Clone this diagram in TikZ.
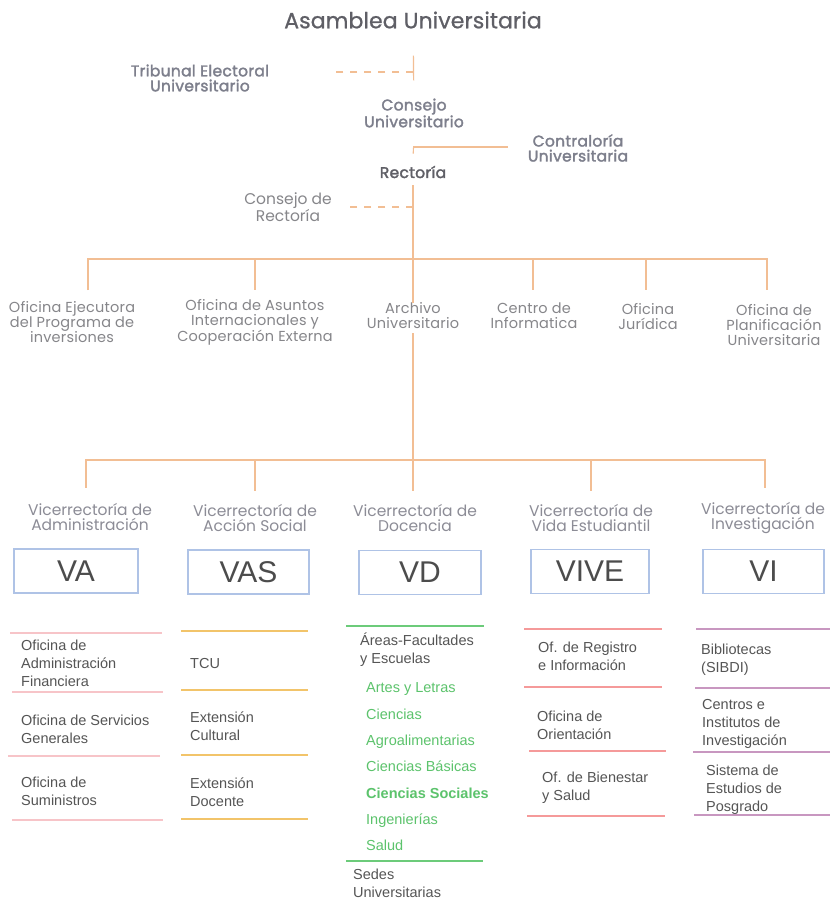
\documentclass[tikz,border=0pt]{standalone}
\usepackage{fontspec}
\setmainfont{Liberation Sans}
\newfontfamily\hfont{Poppins}[LetterSpace=2, FakeBold=2]
\newfontfamily\ofont{Poppins}[LetterSpace=1.5]
\newfontfamily\vfont{Poppins}
\newfontfamily\tfont{Poppins}[LetterSpace=0.5, FakeBold=0.8]
\definecolor{lnc}{HTML}{F2BE94}
\definecolor{hdc}{HTML}{7D7F8C}
\definecolor{ofc}{HTML}{86868A}
\definecolor{vic}{HTML}{8C8C96}
\definecolor{rec}{HTML}{5F5F66}
\definecolor{boxc}{HTML}{AFC3E6}
\definecolor{txc}{HTML}{555555}
\definecolor{pinkc}{HTML}{F7C4C8}
\definecolor{yelc}{HTML}{F2C46A}
\definecolor{grnc}{HTML}{6CCB7A}
\definecolor{redc}{HTML}{F59A9A}
\definecolor{purc}{HTML}{C897C0}
\definecolor{gtx}{HTML}{5CC36C}
\tikzset{
  conn/.style={draw=lnc, line width=1.2pt},
  dconn/.style={draw=lnc, line width=1.2pt, dash pattern=on 7pt off 7pt},
  toplbl/.style={font=\hfont\fontsize{15.5}{15}\selectfont, text=hdc, align=center, inner sep=0pt},
  offlbl/.style={font=\ofont\fontsize{14.5}{15}\selectfont, text=ofc, align=center, inner sep=0pt},
  vilbl/.style={font=\vfont\fontsize{15.5}{15}\selectfont, text=vic, align=center, inner sep=0pt},
  vbox/.style={draw=boxc, line width=1.2pt, fill=white, minimum width=122pt, minimum height=44pt, inner sep=0pt, font=\fontsize{30}{30}\selectfont, text=txc!90!black},
  item/.style={anchor=north west, align=left, inner sep=0pt, font=\fontsize{14.5}{18}\selectfont, text=txc},
  gitem/.style={anchor=north west, inner sep=0pt, font=\fontsize{14.5}{18}\selectfont, text=gtx},
  sep/.style={line width=1.6pt}
}
\begin{document}
\begin{tikzpicture}[x=1pt,y=-1pt]
\useasboundingbox[fill=white] (0,0) rectangle (830,906);
% top
\node[font=\tfont\fontsize{22}{22}\selectfont, text=rec, inner sep=0pt] (asm) at (413,20) {Asamblea Universitaria};
\node[toplbl] (trib) at (200,78) {Tribunal Electoral\\Universitario};
\node[toplbl] (cons) at (414,113) {Consejo\\Universitario};
\node[toplbl] (contr) at (578,148) {Contraloría\\Universitaria};
\node[toplbl, text=rec] (rect) at (413,172) {Rectoría};
\node[offlbl, font=\vfont\fontsize{15.5}{15}\selectfont] (cdr) at (288,207) {Consejo de\\Rectoría};
\coordinate (jt) at (413,72);
\coordinate (te) at (335,72);
\coordinate (jc) at (413,147);
\coordinate (ce) at (508,147);
\coordinate (jr) at (413,207);
\coordinate (re) at (345,207);
\draw[conn, shorten <=27pt, shorten >=18pt] (asm) -- (cons);
\draw[dconn] (jt) -- (te);
\draw[conn, shorten <=20pt, shorten >=12pt] (cons) -- (rect);
\draw[conn] (jc) -- (ce);
\draw[dconn] (jr) -- (re);
% offices
\node[offlbl] (o1) at (72,322) {Oficina Ejecutora\\del Programa de\\inversiones};
\node[offlbl] (o2) at (255,322) {Oficina de Asuntos\\Internacionales y\\Cooperación Externa};
\node[offlbl] (o3) at (413,316) {Archivo\\Universitario};
\node[offlbl] (o4) at (534,316) {Centro de\\Informatica};
\node[offlbl] (o5) at (648,317) {Oficina\\Jurídica};
\node[offlbl] (o6) at (774,325) {Oficina de\\Planificación\\Universitaria};
\coordinate (b1) at (413,259);
\draw[conn] (rect) ++(0,13) -- (b1);
\draw[conn] (88,290) coordinate (d1) |- (b1);
\draw[conn] (b1) -| (767,290) coordinate (d6);
\draw[conn] (b1) -- (o3.north);
\coordinate (b1a) at (255,259);
\coordinate (b1d) at (533,259);
\coordinate (b1e) at (646,259);
\draw[conn] (b1a) -- ++(0,31);
\draw[conn] (b1d) -- ++(0,31);
\draw[conn] (b1e) -- ++(0,31);
% vice
\node[vilbl] (v1) at (90,517) {Vicerrectoría de\\Administración};
\node[vilbl] (v2) at (255,518) {Vicerrectoría de\\Acción Social};
\node[vilbl] (v3) at (415,518) {Vicerrectoría de\\Docencia};
\node[vilbl] (v4) at (591,518) {Vicerrectoría de\\Vida Estudiantil};
\node[vilbl] (v5) at (763,518) {Vicerrectoría de\\Investigación};
\coordinate (b2) at (413,460);
\draw[conn, shorten <=4pt] (o3.south) -- (b2);
\draw[conn] (b2) -| (86,488) coordinate (e1);
\draw[conn] (b2) -| (765,488) coordinate (e5);
\draw[conn] (b2) -- (413,491) coordinate (e3);
\draw[conn] (255,460) coordinate (b2b) -- (255,491) coordinate (e2);
\draw[conn] (591,460) coordinate (b2d) -- (591,491) coordinate (e4);
\node[vbox, minimum width=124pt] (va) at (76,571) {VA};
\node[vbox, minimum width=121pt] (vas) at (248.5,572) {VAS};
\node[vbox] (vd) at (420,572.5) {VD};
\node[vbox, minimum width=118pt] (vive) at (590,571.5) {VIVE};
\node[vbox, minimum width=121pt] (vi) at (763.5,571.5) {VI};
% VA list
\draw[pinkc, sep] (10,633) -- (162,633);
\draw[pinkc, sep] (12,692) -- (163,692);
\draw[pinkc, sep] (8,756) -- (160,756);
\draw[pinkc, sep] (12,820) -- (163,820);
\node[item] (a1) at (21,640) {Oficina de\\Administración\\Financiera};
\node[item] (a2) at (21,715) {Oficina de Servicios\\Generales};
\node[item] (a3) at (21,777) {Oficina de\\Suministros};
% VAS list
\draw[yelc, sep] (181,631) -- (308,631);
\draw[yelc, sep] (181,690) -- (308,690);
\draw[yelc, sep] (181,755) -- (308,755);
\draw[yelc, sep] (181,819) -- (308,819);
\node[item] (s1) at (190,658) {TCU};
\node[item] (s2) at (190,712) {Extensión\\Cultural};
\node[item] (s3) at (190,778) {Extensión\\Docente};
% VD list
\draw[grnc, sep] (346,626) -- (484,626);
\draw[grnc, sep] (346,861) -- (483,861);
\node[item] (d0) at (360,633) {Áreas-Facultades\\y Escuelas};
\node[gitem] (g1) at (366,682) {Artes y Letras};
\node[gitem] (g2) at (366,709) {Ciencias};
\node[gitem] (g3) at (366,735) {Agroalimentarias};
\node[gitem] (g4) at (366,761) {Ciencias Básicas};
\node[gitem, font=\fontsize{14.5}{18}\selectfont\bfseries] (g5) at (366,788) {Ciencias Sociales};
\node[gitem] (g6) at (366,814) {Ingenierías};
\node[gitem] (g7) at (366,840) {Salud};
\node[item] (d8) at (353,869) {Sedes\\Universitarias};
% VIVE list
\draw[redc, sep] (524,629) -- (662,629);
\draw[redc, sep] (524,687) -- (662,687);
\draw[redc, sep] (529,751) -- (666,751);
\draw[redc, sep] (527,816) -- (665,816);
\node[item] (r1) at (538,642) {Of. de Registro\\e Información};
\node[item] (r2) at (537,711) {Oficina de\\Orientación};
\node[item] (r3) at (542,772) {Of. de Bienestar\\y Salud};
% VI list
\draw[purc, sep] (696,629) -- (830,629);
\draw[purc, sep] (695,688) -- (830,688);
\draw[purc, sep] (693,752) -- (830,752);
\draw[purc, sep] (694,815) -- (830,815);
\node[item] (i1) at (701,644) {Bibliotecas\\(SIBDI)};
\node[item] (i2) at (702,699) {Centros e\\Institutos de\\Investigación};
\node[item] (i3) at (706,765) {Sistema de\\Estudios de\\Posgrado};
\end{tikzpicture}
\end{document}
